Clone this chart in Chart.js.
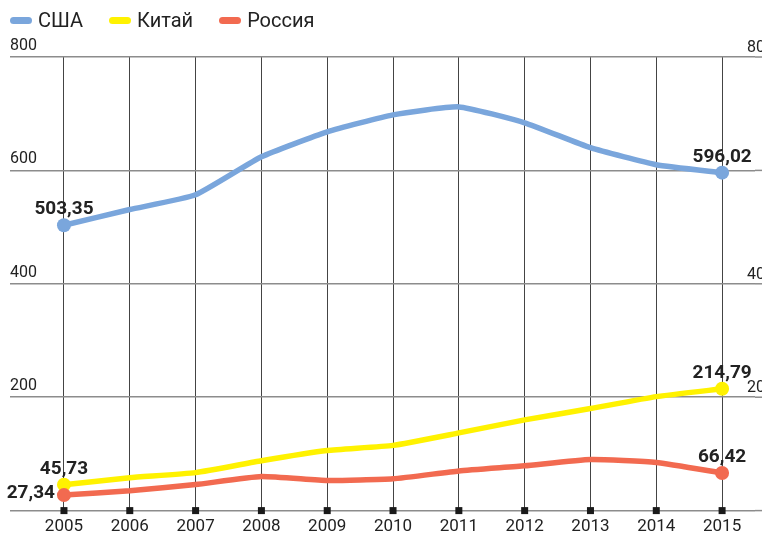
<!DOCTYPE html>
<html lang="ru">
<head>
<meta charset="utf-8">
<script src="https://cdn.jsdelivr.net/npm/chart.js@4.4.0/dist/chart.umd.min.js"></script>
<style>
  html, body { margin: 0; padding: 0; background: #fff; overflow: hidden; }
  #wrap { position: relative; width: 762px; height: 535px; }
  #legend { position: absolute; left: 10px; top: 8px; display: flex; font-family: Roboto, sans-serif; font-size: 20px; color: #222; z-index: 2; }
  .item { display: flex; align-items: center; margin-right: 26px; }
  .pill { width: 22px; height: 7px; border-radius: 4px; margin-right: 6px; }
</style>
</head>
<body>
<div id="wrap">
  <div id="legend"></div>
  <canvas id="chart"></canvas>
</div>
<script>
document.addEventListener('DOMContentLoaded', function() {
  const years = [2005, 2006, 2007, 2008, 2009, 2010, 2011, 2012, 2013, 2014, 2015];
  const usa = [503.35, 531, 557, 624, 668, 698, 712, 684, 640, 610, 596.02];
  const china = [45.73, 58, 67, 88, 106, 115, 137, 160, 180, 201, 214.79];
  const russia = [27.34, 35, 46, 60, 53, 56, 70, 79, 90, 85, 66.42];
  const yTicks = [0, 200, 400, 600, 800];
  const rightTicks = [800, 400, 200];

  const series = [
    { name: 'США', values: usa, color: '#7aa6dc', order: 2 },
    { name: 'Китай', values: china, color: '#fff200', order: 1 },
    { name: 'Россия', values: russia, color: '#f26a50', order: 0 }
  ];

  // html legend
  const legend = document.getElementById('legend');
  legend.innerHTML = series.map(s => `
    <div class="item"><span class="pill" style="background:${s.color}"></span>${s.name}</div>
  `).join('');

  const fmt = v => v.toFixed(2).replace('.', ',');

  const decorations = {
    id: 'decorations',
    afterDraw(chart) {
      const ctx = chart.ctx;
      const x = chart.scales.x;
      const y = chart.scales.y;
      const area = chart.chartArea;
      ctx.save();
      // horizontal rules run on to the right edge of the canvas
      ctx.strokeStyle = '#8c8c8c';
      ctx.lineWidth = 1.5;
      yTicks.forEach(v => {
        const py = y.getPixelForValue(v);
        ctx.beginPath();
        ctx.moveTo(area.right, py);
        ctx.lineTo(chart.width, py);
        ctx.stroke();
      });
      // square tick markers
      ctx.fillStyle = '#1a1a1a';
      years.forEach(yr => {
        const px = x.getPixelForValue(yr);
        ctx.fillRect(px - 3.5, y.getPixelForValue(0) - 3.5, 7, 7);
      });
      // right side labels (cut by the edge)
      ctx.font = '16px Roboto';
      ctx.fillStyle = '#222';
      ctx.textAlign = 'left';
      ctx.textBaseline = 'alphabetic';
      rightTicks.forEach(v => {
        ctx.fillText(String(v), 747, y.getPixelForValue(v) - 5);
      });
      // value labels at both ends
      ctx.font = 'bold 19px Roboto';
      ctx.fillStyle = '#222';
      chart.data.datasets.forEach((ds, i) => {
        const meta = chart.getDatasetMeta(i);
        const first = meta.data[0];
        const last = meta.data[meta.data.length - 1];
        const vals = series[i].values;
        if (series[i].name === 'Россия') {
          ctx.textAlign = 'right';
          ctx.fillText(fmt(vals[0]), first.x - 9, first.y + 3);
        } else {
          ctx.textAlign = 'center';
          ctx.fillText(fmt(vals[0]), first.x, first.y - 11);
        }
        ctx.textAlign = 'center';
        ctx.fillText(fmt(vals[vals.length - 1]), last.x, last.y - 11);
      });
      ctx.restore();
    }
  };

  new Chart(document.getElementById('chart').getContext('2d'), {
    type: 'line',
    data: {
      datasets: series.map(s => ({
        label: s.name,
        data: years.map((yr, i) => ({ x: yr, y: s.values[i] })),
        borderColor: s.color,
        backgroundColor: s.color,
        borderWidth: 5.5,
        tension: 0.15,
        order: s.order,
        pointRadius: c => (c.dataIndex === 0 || c.dataIndex === years.length - 1) ? 7 : 0,
        pointHoverRadius: 0,
        pointBorderWidth: 0,
        clip: false
      }))
    },
    options: {
      responsive: true,
      maintainAspectRatio: false,
      animation: false,
      layout: { padding: { top: 57, left: 10, right: 0, bottom: -8 } },
      plugins: {
        legend: { display: false },
        tooltip: { enabled: false }
      },
      scales: {
        x: {
          type: 'linear',
          min: 2004.18,
          max: 2015.5,
          afterBuildTicks: axis => { axis.ticks = years.map(v => ({ value: v })); },
          border: { display: false },
          grid: { color: '#444', lineWidth: 1, drawTicks: false },
          ticks: {
            padding: 6,
            color: '#222',
            font: { family: 'Roboto', size: 17 },
            callback: v => String(v)
          }
        },
        y: {
          min: 0,
          max: 800,
          afterBuildTicks: axis => { axis.ticks = yTicks.map(v => ({ value: v })); },
          border: { display: false },
          grid: { color: '#8c8c8c', lineWidth: 1.5, drawTicks: false },
          ticks: {
            mirror: true,
            padding: 0,
            labelOffset: -11,
            color: '#222',
            font: { family: 'Roboto', size: 16 },
            callback: v => v === 0 ? '' : String(v)
          }
        }
      }
    },
    plugins: [decorations]
  });
});
</script>
</body>
</html>
